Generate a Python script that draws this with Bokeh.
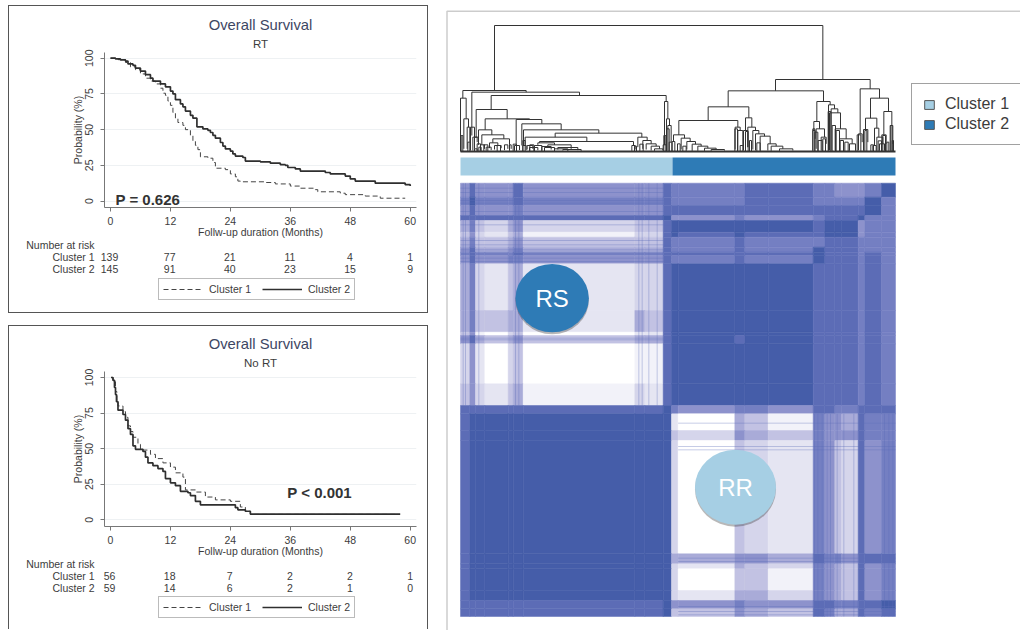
from bokeh.embed import file_html
from bokeh.resources import INLINE
from bokeh.layouts import row, column
from bokeh.plotting import figure
from bokeh.models import (Range1d, Legend, LegendItem, Title, FixedTicker, BoxAnnotation)
from bokeh.core.properties import value

FONT = "Liberation Sans"
INK = "#3c3c3c"
TITLE_INK = "#3d4663"
MONTHS = [0, 12, 24, 36, 48, 60]
PROB_TICKS = [0, 25, 50, 75, 100]

# Kaplan-Meier, RT
rt_c1_t = [0,1.5,3,4,5,6,7,8,9,10,10.5,11,11.5,12,12.5,13,13.5,14.5,15,16,16.5,17,17.5,18,19.5,20.5,21,23,24,25,25.5,26,31,33,36,38,41,41.5,46,47,51,54,59]
rt_c1_s = [100,99,97,94,92,89,86,84,82,79,75.5,74,70,67,62,58,55,53,50,46,42,39,36,31,30,27,23,22,19,17,14,13.5,13,12,10.5,9,8,6.5,5.5,4.5,3.5,2,2]
rt_c2_t = [0,1,2,3,3.5,4.5,5,6,7,8,8.5,10,11,12,12.5,13,14,14.5,15,16,16.5,17.3,18.5,19.5,20,20.5,21,22,22.5,23,24,24.5,25,26.5,27,30,32,34,35,35.5,37,38,43,44,47,48,49,53,59,60]
rt_c2_s = [100,99.5,98.8,98,96,95,93,91,88.5,86,84,82,80,77,75,71,68,66,63,60,58,52,50.5,49.5,48,46,44,41,38.5,36.5,35,33,31.5,30.5,28,27.5,26.5,25.5,25,23.5,22.5,21,20,19,17.5,15.5,14,12.5,11.5,10.5]
rt_risk_c1 = [139, 77, 21, 11, 4, 1]
rt_risk_c2 = [145, 91, 40, 23, 15, 9]

# Kaplan-Meier, no RT
no_c1_t = [0.1,0.5,1,1.3,1.5,2.5,3,3.5,4,4.5,5.5,6,8,9,10.5,12,13,14.5,15,17,19,21,24,26,27,28,57.5]
no_c1_s = [100,97,90,84,80,76,72,66,62,58,53,49,46,43,40,37,33,30,21,19.5,16,14,13,9,6,3.8,3.8]
no_c2_t = [0.1,0.5,0.8,1,1.2,1.5,2.5,3,3.5,4,4.5,5,6.5,7,7.5,8.5,9.5,10.5,11,12,13,14,15.5,16,17,18,24.5,25,25.5,27,28,58]
no_c2_s = [100,98,93,88,83,77,74,70,64,60,52,49.5,48,44,40,38,36,34,29,26,24,20,19,17,13,10.5,10.5,8.5,7,6,4,4]
no_risk_c1 = [56, 18, 7, 2, 2, 1]
no_risk_c2 = [59, 14, 6, 2, 1, 0]

# Consensus matrix: band edges (1/3 px units) and shade per band (0 white .. 9 dark)
heat_x_edges = [0,28,45,73,143,158,188,523,553,608,633,653,823,853,923,1058,1093,1123,1143,1193,1213,1263,1305]
heat_y_edges = [0,42,67,97,112,147,162,192,207,217,242,382,447,457,482,602,667,692,742,772,1112,1142,1157,1222,1252,1277,1300]
heat_levels = [
    "6866686668 777887766679",
    "7977787778 777887777797",
    "6866676668 888888888897",
    "8888888889 667667888977",
    "5743563448 999998999677",
    "4632451338 989888999677",
    "5744564448 778777888777",
    "6855675558 778779888777",
    "7877787778 888889888787",
    "6866776668 778779888787",
    "5732452338 999998888787",
    "5744552548 999998888787",
    "4610340228 999998888787",
    "6854564558 998998888787",
    "3620340118 999998888787",
    "4632451328 999998888787",
    "8888888889 767768877888",
    "8999999999 205417665877",
    "8999999999 436547666877",
    "8999999999 304327643867",
    "8999999999 556658776888",
    "8999999999 325437654867",
    "8999999999 304417654867",
    "8999999999 325537654867",
    "8888888889 667668877889",
    "8888888889 446548755878",
]
heat_palette = ["#ffffff","#f2f2f9","#e5e5f2","#d5d5eb","#c2c2e3","#a9abd8","#8d92cc","#747fc2","#5c6cb6","#455da9"]
# thin stripes inside the bands: position, start, end
heat_rows_thin = [(15,0,633),(28,0,633),(52,0,633),(60,0,633),(85,0,633),(125,0,633),(172,0,633),(185,0,633),(200,0,633),(225,0,633),(235,0,633),(465,0,633),(470,0,633),
                  (720,653,1305),(790,653,1305),(800,653,1305),(1125,653,1305),(1135,653,1305),(1270,653,1305),(1285,653,1305),(1295,653,1305)]
heat_cols_thin = [(8,0,667),(15,0,667),(55,0,667),(165,0,667),(175,0,667),(535,0,667),(545,0,667),(565,0,667),(590,0,667),
                  (1062,692,1300),(1072,692,1300),(1085,692,1300),(1100,692,1300),(1110,692,1300),(1130,692,1300),(1150,692,1300),(1180,692,1300),(1205,692,1300),(1272,692,1300),(1285,692,1300),(1297,692,1300)]

# Dendrogram brackets: left leaf, right leaf, merge level, left child level, right child level
dend_left = [
 (25,215,15,38,20),(52,375,20,150,30),(110,635,30,72,48),(65,158,72,155,100),(92,225,100,133,102),
 (185,262,102,178,115),(202,320,115,180,133),(207,433,133,180,143),(302,562,143,155,155),(212,397,155,178,168),
 (255,537,168,172,180),(250,300,172,178,178),(280,350,178,185,190),(310,370,186,192,194),(325,380,192,195,196),
 (532,542,180,196,192),(550,578,155,185,165),(565,590,165,190,175),(575,605,175,192,182),(590,615,182,195,190),
 (600,625,190,196,194),(218,235,180,192,190),(225,250,186,196,194),(262,290,183,195,192),(205,215,180,197,194),
 (72,112,133,178,148),(82,148,148,178,160),(115,165,160,172,178),(78,90,178,196,190),(105,130,172,188,180),
 (120,140,180,192,188),(95,110,185,196,194),(150,160,178,194,190),(165,170,178,196,190),(180,195,180,196,194),
 (60,72,155,190,175),(68,78,175,196,190),(18,35,38,198,100),(28,42,100,190,125),(38,46,125,190,170),
 (48,60,125,195,155),(55,68,155,195,170),(630,640,48,178,100),(636,645,100,190,120),(640,650,120,196,170),(626,636,178,196,190),
 (20,25,150,198,198),(40,46,170,198,198),(60,68,190,198,198),(73,80,185,198,198),(628,634,150,198,198),(636,644,130,198,198),
 (644,652,170,198,198),(205,212,165,198,198),(88,100,178,198,198),(128,138,180,198,198),(176,186,176,198,198),(540,546,182,198,198),
 (556,566,176,198,198),(226,238,178,198,198),(240,262,180,198,198),(270,300,186,198,198),(300,340,190,198,198),
]
dend_right = [
 (318,602,12,46,40),(176,462,46,94,78),(116,238,94,135,127),(28,205,135,178,155),(12,45,178,198,188),
 (35,62,188,222,198),(52,78,198,222,206),(68,95,206,226,212),(85,115,212,226,218),(105,140,218,226,222),(125,165,222,226,225),
 (197,212,155,222,165),(205,220,165,226,212),(228,247,127,165,155),(235,258,155,215,165),(222,235,165,225,215),
 (250,268,165,222,175),(258,285,175,225,182),(272,302,182,225,205),(295,320,205,225,212),(305,340,212,226,220),(330,370,220,226,225),
 (442,482,78,138,88),(433,450,138,165,160),(430,437,165,225,190),(440,465,160,220,185),(455,470,185,225,205),
 (477,495,88,225,100),(485,505,100,225,112),(480,513,112,225,160),(497,530,160,225,190),(510,548,190,225,205),(540,558,205,226,226),
 (572,630,40,175,68),(567,578,175,225,200),(603,657,68,128,108),(588,622,128,162,158),(582,595,162,226,200),(615,628,158,210,185),
 (610,620,210,226,226),(622,640,185,226,205),(643,667,108,178,150),(637,650,178,226,205),(662,670,150,226,205),(630,645,205,226,226),
 (430,436,160,228,228),(436,445,170,228,228),(446,458,195,228,228),(460,468,190,228,228),(476,484,108,228,228),(488,498,150,228,228),
 (500,510,165,228,228),(512,522,195,228,228),(526,536,200,228,228),(563,574,178,228,228),(586,592,165,228,228),(604,612,208,228,228),
 (626,636,196,228,228),(640,648,180,228,228),(652,658,200,228,228),(664,668,150,228,228),(668,672,195,228,228),(8,16,198,228,228),
 (24,32,205,228,228),(40,50,212,228,228),(196,204,160,228,228),(212,220,210,228,228),(228,236,168,228,228),(240,246,195,228,228),(262,272,202,228,228),
]
cluster_names = ["Cluster 1", "Cluster 2"]
cluster_colors = ["#a6cfe4", "#2e7bb6"]
cluster_split = 636

BORDER = "1.5px solid #555555"
MPX = 313 / 62.46   # px per month


def km_panel(subtitle, t1, s1, t2, s2, risk1, risk2, y0, y1, top_px, frame_top, frame_bottom,
             foot_h, rows, legend_y, pval, pval_xy, bottom_border, outer_margin):
    main_bottom = frame_bottom + 33
    p = figure(width=418, height=main_bottom - top_px, output_backend="svg", toolbar_location=None,
               x_range=Range1d(-1.2, 61.26), y_range=Range1d(y0, y1),
               min_border_left=95, min_border_right=11, min_border_top=frame_top - top_px,
               min_border_bottom=33, outline_line_color=None, background_fill_color="white",
               frame_align=False)
    p.add_layout(Title(text=subtitle, align="center", text_font=FONT, text_font_size="11.5px", text_color=INK,
                       text_font_style="normal", standoff=5), "above")
    p.add_layout(Title(text="Overall Survival", align="center", text_font=FONT, text_font_size="14.8px",
                       text_color=TITLE_INK, text_font_style="normal", standoff=1), "above")
    p.xgrid.visible = False
    p.ygrid.ticker = FixedTicker(ticks=PROB_TICKS)
    p.ygrid.grid_line_color = "#eef1f3"
    p.xaxis.ticker = FixedTicker(ticks=MONTHS)
    p.yaxis.ticker = FixedTicker(ticks=PROB_TICKS)
    p.xaxis.axis_label = "Follw-up duration (Months)"
    p.yaxis.axis_label = "Probability (%)"
    p.yaxis.major_label_orientation = "vertical"
    for ax in (p.xaxis[0], p.yaxis[0]):
        ax.axis_line_color = "#777777"
        ax.major_tick_line_color = "#777777"
        ax.major_tick_out = 4
        ax.major_tick_in = 0
        ax.minor_tick_line_color = None
        ax.major_label_text_font = FONT
        ax.major_label_text_font_size = "10.5px"
        ax.major_label_text_color = INK
        ax.axis_label_text_font = FONT
        ax.axis_label_text_font_size = "10.5px"
        ax.axis_label_text_font_style = "normal"
        ax.axis_label_text_color = INK
    p.xaxis.major_label_standoff = 5
    p.xaxis.axis_label_standoff = -2
    p.yaxis.major_label_standoff = 7
    p.yaxis.axis_label_standoff = -1

    p.step(t1, s1, mode="after", line_color="#444444", line_width=1, line_dash="5 3")
    p.step(t2, s2, mode="after", line_color="#2f2f2f", line_width=1.7)
    p.text([pval_xy[0]], [pval_xy[1]], text=[pval], text_font=value(FONT), text_font_size="15px",
           text_font_style="bold", text_color="#333333", text_baseline="middle")

    # footer: number-at-risk table and legend, x in months, y in rows
    xl = (10 - 110) / MPX
    xr = (428 - 110) / MPX
    f = figure(width=418, height=foot_h, output_backend="svg", toolbar_location=None,
               x_range=Range1d(xl, xr), y_range=Range1d(foot_h, 0), min_border=0,
               outline_line_color=None, background_fill_color="white", frame_align=False)
    f.axis.visible = False
    f.grid.visible = False
    lab_x = (95 - 110) / MPX
    f.text([lab_x] * 3, rows, text=["Number at risk"] + cluster_names, text_align="right",
           text_baseline="middle", text_font=value(FONT), text_font_size="10.5px", text_color=INK)
    for vals, yrow in ((risk1, rows[1]), (risk2, rows[2])):
        f.text(MONTHS, [yrow] * 6, text=[str(v) for v in vals], text_align="center", text_baseline="middle",
               text_font=value(FONT), text_font_size="10.5px", text_color=INK)
    d1 = f.line([xl, xl], [0, 0], line_color="#444444", line_width=1, line_dash="5 3")
    d2 = f.line([xl, xl], [0, 0], line_color="#2f2f2f", line_width=1.7)
    f.add_layout(Legend(items=[LegendItem(label=cluster_names[0], renderers=[d1]),
                               LegendItem(label=cluster_names[1], renderers=[d2])],
                        orientation="horizontal", location=(149, legend_y),
                        glyph_width=40, glyph_height=10, label_standoff=6, spacing=11, padding=4, margin=0,
                        label_height=12, label_text_font=FONT, label_text_font_size="10.5px", label_text_color=INK,
                        border_line_color="#777777", border_line_width=1, background_fill_color="white"))
    st = {"border-left": BORDER, "border-right": BORDER, "border-top": BORDER}
    if bottom_border:
        st["border-bottom"] = BORDER
    return column(p, f, spacing=0, styles=st, margin=outer_margin)


panel1 = km_panel("RT", rt_c1_t, rt_c1_s, rt_c2_t, rt_c2_s, rt_risk_c1, rt_risk_c2, -4.5, 104,
                  6, 52, 207, 72, [4, 16, 28], 12, "P = 0.626", (1, 1), True, (5, 11, 0, 8))
panel2 = km_panel("No RT", no_c1_t, no_c1_s, no_c2_t, no_c2_s, no_risk_c1, no_risk_c2, -4.7, 104.2,
                  326, 371, 526, 70, [4, 16, 28], 11, "P < 0.001", (35.4, 19), False, (12, 11, 0, 8))

# Right-hand panel: 1 data unit = 1/3 px
p3 = figure(width=581, height=630, output_backend="svg", toolbar_location=None,
            x_range=Range1d(-63, 1680), y_range=Range1d(1342, -548),
            min_border=0, outline_line_color=None, background_fill_color="white", frame_align=False)
p3.axis.visible = False
p3.grid.visible = False
p3.extra_y_ranges = {"dend": Range1d(-1437, 453)}

# heatmap
hl, hr, ht, hb, hc = [], [], [], [], []
for j, s in enumerate(heat_levels):
    s = s.replace(" ", "")
    for i in range(len(heat_x_edges) - 1):
        hl.append(heat_x_edges[i]); hr.append(heat_x_edges[i + 1])
        ht.append(heat_y_edges[j]); hb.append(heat_y_edges[j + 1])
        hc.append(heat_palette[int(s[i])])
p3.quad(left=hl, right=hr, top=ht, bottom=hb, fill_color=hc, line_color=hc, line_width=0.5)
p3.segment([a for _, a, _ in heat_rows_thin], [y for y, _, _ in heat_rows_thin],
           [b for _, _, b in heat_rows_thin], [y for y, _, _ in heat_rows_thin],
           line_color="#5c6cb6", line_alpha=0.35, line_width=1)
p3.segment([x for x, _, _ in heat_cols_thin], [a for _, a, _ in heat_cols_thin],
           [x for x, _, _ in heat_cols_thin], [b for _, _, b in heat_cols_thin],
           line_color="#5c6cb6", line_alpha=0.35, line_width=1)

# dendrogram
xs, ys = [], []
for table, ox, oy in ((dend_left, -18, 198), (dend_right, 627, 228)):
    for zl, zr, zy, zbl, zbr in table:
        xs.append([zl + ox, zl + ox, zr + ox, zr + ox])
        ys.append([oy - zbl, oy - zy, oy - zy, oy - zbr])
xs.append([(25 + 215) / 2 - 18, (25 + 215) / 2 - 18, (318 + 602) / 2 + 627, (318 + 602) / 2 + 627])
ys.append([198 - 15, 378, 378, 228 - 12])
p3.multi_line(xs, ys, line_color="#333333", line_width=1, y_range_name="dend")
p3.line([0, heat_x_edges[-1]], [0, 0], line_color="#333333", line_width=2, y_range_name="dend")

# cluster bar
p3.quad(left=[0], right=[cluster_split], top=[-77], bottom=[-23], fill_color=cluster_colors[0], line_color=None)
p3.quad(left=[cluster_split], right=[heat_x_edges[-1]], top=[-77], bottom=[-23], fill_color=cluster_colors[1], line_color=None)
# legend keys: swatches with a thin edge, their own marks lie outside the visible range
k1 = p3.quad(left=[-3000], right=[-2990], top=[-3000], bottom=[-2990], fill_color=cluster_colors[0], line_color="#555555")
k2 = p3.quad(left=[-3000], right=[-2990], top=[-3000], bottom=[-2990], fill_color=cluster_colors[1], line_color="#555555")

# badges
p3.ellipse([275, 825], [351, 918], width=[220, 243], height=[205, 225], fill_color="#333333", fill_alpha=0.35, line_color=None)
p3.ellipse([275, 825], [345, 912], width=[220, 243], height=[205, 225], fill_color=[cluster_colors[1], cluster_colors[0]], line_color=None)
p3.text([275, 825], [345, 912], text=["RS", "RR"], text_color="white", text_font=value(FONT), text_font_size="24px",
        text_align="center", text_baseline="middle")

p3.add_layout(Legend(items=[LegendItem(label=cluster_names[0], renderers=[k1]),
                            LegendItem(label=cluster_names[1], renderers=[k2])],
                     location=(472, 485), glyph_width=12, glyph_height=11, label_standoff=10, spacing=2,
                     padding=11, margin=0, label_width=90, label_height=12,
                     label_text_font=FONT, label_text_font_size="16px", label_text_color=INK,
                     border_line_color="#444444", border_line_width=1.5))
p3.add_layout(BoxAnnotation(left=-40.5, right=1800, top=-516, bottom=1500, fill_alpha=0,
                            line_color="#555555", line_width=1.5))

root = row(column(panel1, panel2, spacing=0), p3, spacing=0)
open("out.html", "w").write(file_html(root, INLINE))
